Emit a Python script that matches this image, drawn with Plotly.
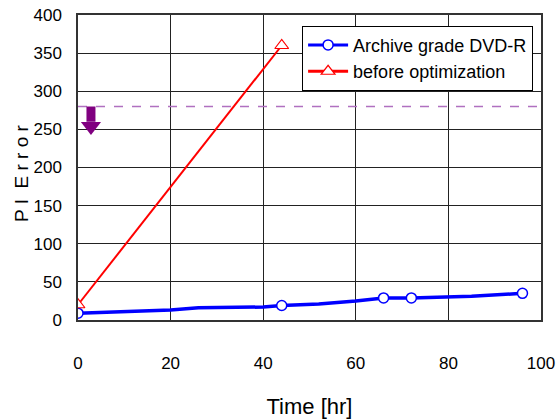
import plotly.graph_objects as go

# Data
blue_line_t = [0, 10, 20, 26, 33, 40, 44, 52, 60, 66, 72, 77, 85, 96]
blue_line_v = [9, 11, 13, 16, 16, 17, 19, 21, 25, 29, 29, 30, 31, 35]
blue_mark_t = [0, 44, 66, 72, 96]
blue_mark_v = [9, 19, 29, 29, 35]
red_t = [0, 44]
red_v = [20, 360]
limit_value = 280
arrow_t = 2.8
arrow_shaft_end = 260
arrow_head_center = 254

FONT = "Liberation Sans, Arial, sans-serif"
BLUE = "#0000ff"
RED = "#ff0000"
PURPLE = "#800080"

fig = go.Figure()
fig.add_trace(go.Scatter(x=blue_line_t, y=blue_line_v, mode="lines",
                         line=dict(color=BLUE, width=3.5), showlegend=False))
fig.add_trace(go.Scatter(x=blue_mark_t, y=blue_mark_v, mode="markers",
                         marker=dict(symbol="circle", size=10, color="white",
                                     line=dict(color=BLUE, width=1.5)),
                         showlegend=False))
fig.add_trace(go.Scatter(x=red_t, y=red_v, mode="lines+markers",
                         line=dict(color=RED, width=2),
                         marker=dict(symbol="triangle-up", size=12, color="white",
                                     line=dict(color=RED, width=1.2)),
                         showlegend=False))
# legend entries
fig.add_trace(go.Scatter(x=[None], y=[None], mode="lines+markers", name="Archive grade DVD-R",
                         line=dict(color=BLUE, width=3),
                         marker=dict(symbol="circle", size=10, color="white",
                                     line=dict(color=BLUE, width=1.5))))
fig.add_trace(go.Scatter(x=[None], y=[None], mode="lines+markers", name="before optimization",
                         line=dict(color=RED, width=3),
                         marker=dict(symbol="triangle-up", size=12, color="white",
                                     line=dict(color=RED, width=1.2))))

fig.add_hline(y=limit_value, line=dict(color="#b070c0", width=1.5, dash="dash"))

# downward arrow: shaft + head
fig.add_shape(type="line", xref="x", yref="y", x0=arrow_t, x1=arrow_t,
              y0=limit_value, y1=arrow_shaft_end, line=dict(color=PURPLE, width=9))
fig.add_trace(go.Scatter(x=[arrow_t], y=[arrow_head_center], mode="markers",
                         marker=dict(symbol="triangle-down", size=17.5, color=PURPLE,
                                     line=dict(width=0)),
                         showlegend=False, hoverinfo="skip"))

fig.add_annotation(text="P I  E r r o r", xref="paper", yref="paper",
                   x=-0.121, y=0.482, xanchor="center", yanchor="middle",
                   textangle=-90, showarrow=False, font=dict(size=19))

fig.update_layout(
    width=557, height=419,
    margin=dict(l=78, r=16, t=15, b=99),
    paper_bgcolor="white", plot_bgcolor="white",
    font=dict(family=FONT, size=18, color="black"),
    legend=dict(x=0.484, y=0.965, xanchor="left", yanchor="top",
                bordercolor="black", borderwidth=1, bgcolor="white",
                font=dict(size=18), tracegroupgap=0, itemwidth=40,
                entrywidth=228, entrywidthmode="pixels"),
    xaxis=dict(range=[0, 100], dtick=20, showgrid=True, gridcolor="#222222", gridwidth=1,
               showline=True, linecolor="#333333", linewidth=1.5, mirror=True,
               ticks="", ticklabelstandoff=27, zeroline=False, automargin=False,
               tickfont=dict(size=17),
               title=dict(text="Time [hr]", standoff=29)),
    yaxis=dict(range=[0, 400], dtick=50, showgrid=True, gridcolor="#222222", gridwidth=1,
               showline=True, linecolor="#333333", linewidth=1.5, mirror=True,
               ticks="", ticklabelstandoff=11, zeroline=False, automargin=False,
               tickfont=dict(size=17)),
)

fig.write_html("out.html", config={"displayModeBar": False},
               post_script="document.body.style.margin='0';")
